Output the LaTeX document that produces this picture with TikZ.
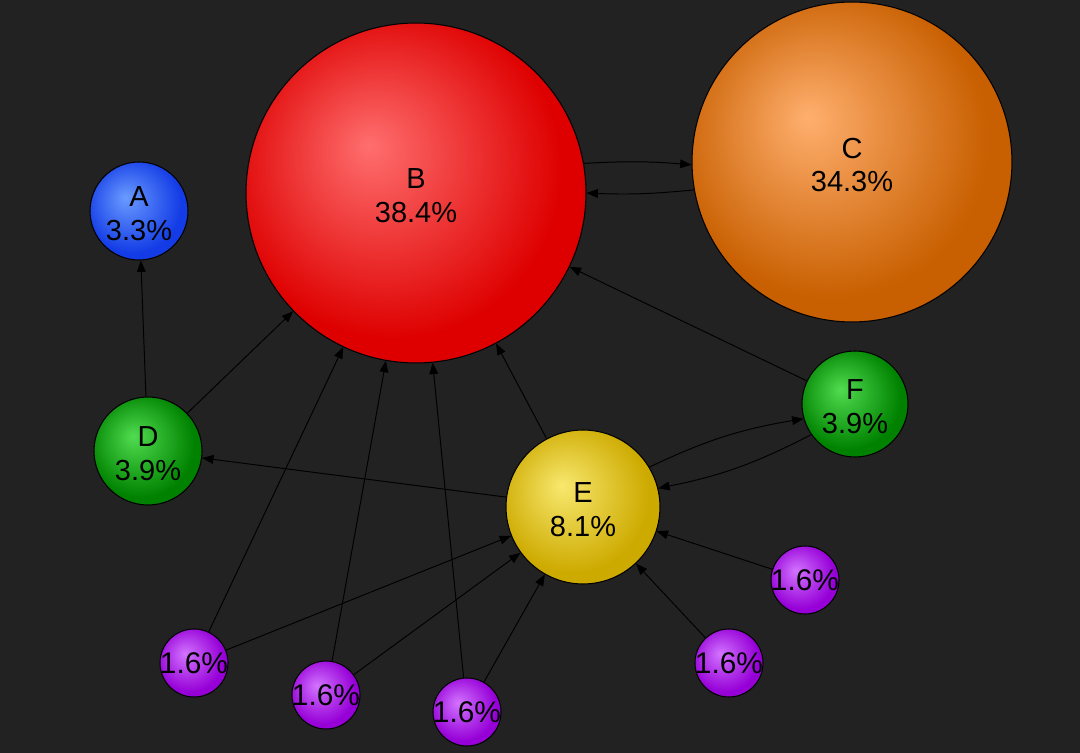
\documentclass[tikz,border=0pt]{standalone}
\usepackage{fontspec}
\setmainfont{Liberation Sans}
\usetikzlibrary{arrows.meta}

\definecolor{canvas}{RGB}{34,34,34}
\newcommand\ballshade[3]{%
	\definecolor{#1hi}{RGB}{#2}%
	\definecolor{#1lo}{RGB}{#3}%
	\pgfdeclareradialshading{#1ball}{\pgfpoint{-7bp}{7bp}}{color(0bp)=(#1hi); color(25bp)=(#1lo); color(50bp)=(#1lo)}}
\ballshade{ablue}{105,155,255}{20,60,230}
\ballshade{bred}{255,110,110}{222,0,0}
\ballshade{corange}{255,175,110}{200,95,0}
\ballshade{dgreen}{80,220,80}{0,130,0}
\ballshade{eyellow}{248,232,110}{205,170,0}
\ballshade{pviolet}{210,115,255}{150,0,215}
\newcommand\low[1]{\raisebox{-1.7pt}[\height][\depth]{#1}}

\tikzset{
	page/.style={circle,draw=black,line width=0.6pt,inner sep=0pt,align=center,
		font=\fontsize{16.5}{19.3}\selectfont},
	leaf/.style={page,shading=pvioletball,minimum size=1.36cm,
		font=\fontsize{17}{19}\selectfont},
	link/.style={-{Triangle[length=6.5pt,width=5pt]},line width=0.55pt,black},
}

\begin{document}
\begin{tikzpicture}[x=0.02cm,y=-0.02cm]
	\fill[canvas] (0,0) rectangle (1080,753);

	\node [page,shading=ablueball,minimum size=1.96cm] (A) at (139,211) {\low{A}\\\low{3.3\%}};
	\node [page,shading=bredball,minimum size=6.8cm] (B) at (416,193) {\low{B}\\\low{38.4\%}};
	\node [page,shading=corangeball,minimum size=6.4cm] (C) at (852,162) {\low{C}\\\low{34.3\%}};
	\node [page,shading=dgreenball,minimum size=2.16cm] (D) at (148,451) {\low{D}\\\low{3.9\%}};
	\node [page,shading=eyellowball,minimum size=3.08cm] (E) at (583,507) {\low{E}\\\low{8.1\%}};
	\node [page,shading=dgreenball,minimum size=2.12cm] (F) at (855,404) {\low{F}\\\low{3.9\%}};

	\node [leaf] (P1) at (194,663) {\makebox[0pt]{1.6\%}};
	\node [leaf] (P2) at (326,695) {\makebox[0pt]{1.6\%}};
	\node [leaf] (P3) at (467,712) {\makebox[0pt]{1.6\%}};
	\node [leaf] (P4) at (729,663) {\makebox[0pt]{1.6\%}};
	\node [leaf] (P5) at (805,580) {\makebox[0pt]{1.6\%}};

	\draw [link] (D) -- (A);
	\draw [link] (D) -- (B);
	\draw [link] (B.10) to[bend left=4] (C.181);
	\draw [link] (C.190) to[bend left=4] (B.0);
	\draw [link] (E) -- (B);
	\draw [link] (E) -- (D);
	\draw [link] (E.31) to[bend left=8] (F.196);
	\draw [link] (F.215) to[bend left=8] (E.14);
	\draw [link] (F) -- (B);
	\foreach \p in {P1,P2,P3} {
		\draw [link] (\p) -- (B);
		\draw [link] (\p) -- (E);
	}
	\draw [link] (P4) -- (E);
	\draw [link] (P5) -- (E);
\end{tikzpicture}
\end{document}
